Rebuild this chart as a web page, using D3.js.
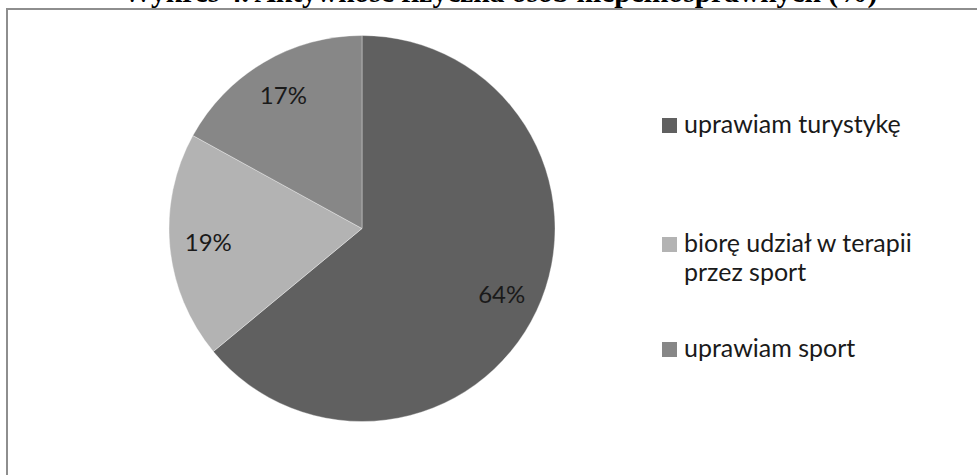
<!DOCTYPE html>
<html><head><meta charset="utf-8">
<script src="https://cdn.jsdelivr.net/npm/d3@7"></script>
<style>html,body{margin:0;padding:0;background:#fff;overflow:hidden}</style>
</head><body>
<svg id="c" width="977" height="475"></svg>
<script>
const title = "Wykres 4. Aktywność fizyczna osób niepełnosprawnych (%)";
const categories = ["uprawiam turystykę", "biorę udział w terapii przez sport", "uprawiam sport"];
const legendLines = [["uprawiam turystykę"], ["biorę udział w terapii", "przez sport"], ["uprawiam sport"]];
const values = [64, 19, 17];
const colors = ["#606060", "#b3b3b3", "#878787"];

const svg = d3.select("#c");
svg.append("rect").attr("x", 7).attr("y", 9).attr("width", 1000).attr("height", 500)
  .attr("fill", "#fff").attr("stroke", "#8e8e8e").attr("stroke-width", 2);

svg.append("text").attr("x", 500).attr("y", 2).attr("text-anchor", "middle")
  .attr("font-family", "'Liberation Serif', 'Times New Roman', serif").attr("font-weight", "bold")
  .attr("font-size", 29.5).attr("fill", "#000").text(title);

const cx = 362, cy = 228.5, r = 193;
const pie = d3.pie().sort(null).value(d => d);
const arcs = pie(values);
const arc = d3.arc().innerRadius(0).outerRadius(r);
const g = svg.append("g").attr("transform", `translate(${cx},${cy})`);
g.selectAll("path").data(arcs).join("path")
  .attr("d", arc).attr("fill", (d, i) => colors[i])
  .attr("stroke", "rgba(255,255,255,0.35)").attr("stroke-width", 1);

const labelArc = d3.arc().innerRadius(r * 0.8).outerRadius(r * 0.8);
g.selectAll("text.lbl").data(arcs).join("text").attr("class", "lbl")
  .attr("transform", d => { const c = labelArc.centroid(d); return `translate(${c[0]},${c[1]})`; })
  .attr("text-anchor", "middle").attr("dy", "0.35em")
  .attr("font-family", "Lato, 'Open Sans', sans-serif").attr("font-size", 24).attr("fill", "#1a1a1a")
  .text(d => d.data + "%");

const legY = [133, 252, 357];
const lg = svg.append("g");
legendLines.forEach((lines, i) => {
  lg.append("rect").attr("x", 662).attr("y", legY[i] - 15).attr("width", 15).attr("height", 15).attr("fill", colors[i]);
  lines.forEach((t, j) => {
    lg.append("text").attr("x", 684).attr("y", legY[i] + j * 29)
      .attr("font-family", "Lato, 'Open Sans', sans-serif").attr("font-size", 25).attr("fill", "#1a1a1a").text(t);
  });
});
</script>
</body></html>
